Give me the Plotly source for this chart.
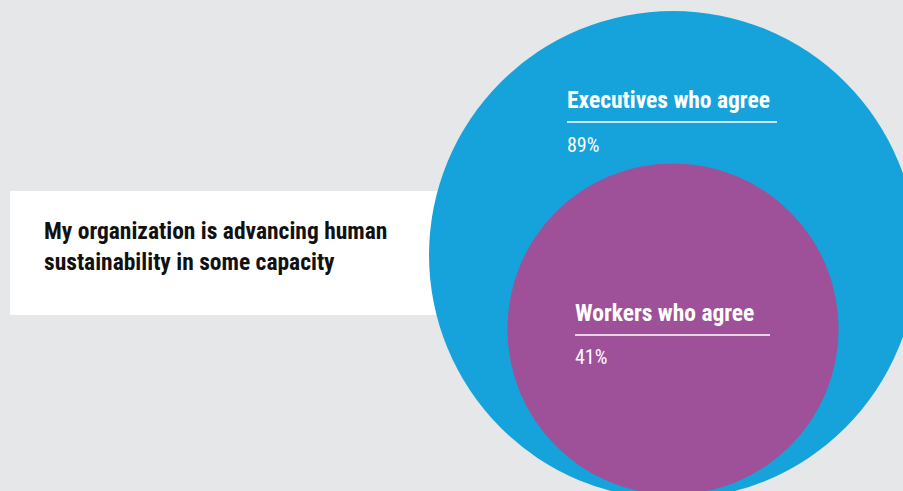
import math
import plotly.graph_objects as go

# ---- data ----
groups = ["Executives who agree", "Workers who agree"]
values = [89, 41]
value_labels = ["89%", "41%"]
colors = ["#16a3dc", "#9e5199"]
statement = "My organization is advancing human<br>sustainability in some capacity"

W, H = 903, 491
BG = "#e6e7e9"
COND = "Liberation Sans Narrow, Roboto Condensed, Arial Narrow, Roboto, sans-serif"

# area-proportional radii
k = 244 / math.sqrt(max(values))
radii = [k * math.sqrt(v) for v in values]
cx = 673
centers_y = [255, 329]

fig = go.Figure()
fig.add_trace(go.Scatter(x=[0, W], y=[0, H], mode="markers",
                         marker=dict(opacity=0), hoverinfo="skip", showlegend=False))

shapes = []
# white statement box
shapes.append(dict(type="rect", x0=10, x1=460, y0=191, y1=315,
                   fillcolor="white", line=dict(width=0), layer="below"))
for r, cy, c in zip(radii, centers_y, colors):
    shapes.append(dict(type="circle", x0=cx - r, x1=cx + r, y0=cy - r, y1=cy + r,
                       fillcolor=c, line=dict(width=0), layer="below"))

annotations = [dict(x=42, y=246, text="<b>" + statement + "</b>", showarrow=False,
                    xanchor="left", yanchor="middle", align="left",
                    font=dict(family=COND, size=23.5, color="#111111"))]

label_pos = [(567, 100, 122, 777, 145), (575, 313, 335, 770, 357)]
for g, vl, (lx, ty, uy, ux1, vy) in zip(groups, value_labels, label_pos):
    annotations.append(dict(x=lx - 2, y=ty, text="<b>" + g + "</b>", showarrow=False,
                            xanchor="left", yanchor="middle",
                            font=dict(family=COND, size=23.5, color="white")))
    shapes.append(dict(type="line", x0=lx, x1=ux1, y0=uy, y1=uy,
                       line=dict(color="white", width=1.5)))
    annotations.append(dict(x=lx - 2, y=vy, text=vl, showarrow=False,
                            xanchor="left", yanchor="middle",
                            font=dict(family=COND, size=20, color="white")))

fig.update_layout(
    width=W, height=H, margin=dict(l=0, r=0, t=0, b=0),
    paper_bgcolor=BG, plot_bgcolor=BG,
    xaxis=dict(range=[0, W], visible=False, fixedrange=True),
    yaxis=dict(range=[H, 0], visible=False, fixedrange=True),
    shapes=shapes, annotations=annotations, showlegend=False,
)
fig.write_html("out.html", config={"displayModeBar": False},
               post_script="document.body.style.margin='0';document.body.style.overflow='hidden';")
